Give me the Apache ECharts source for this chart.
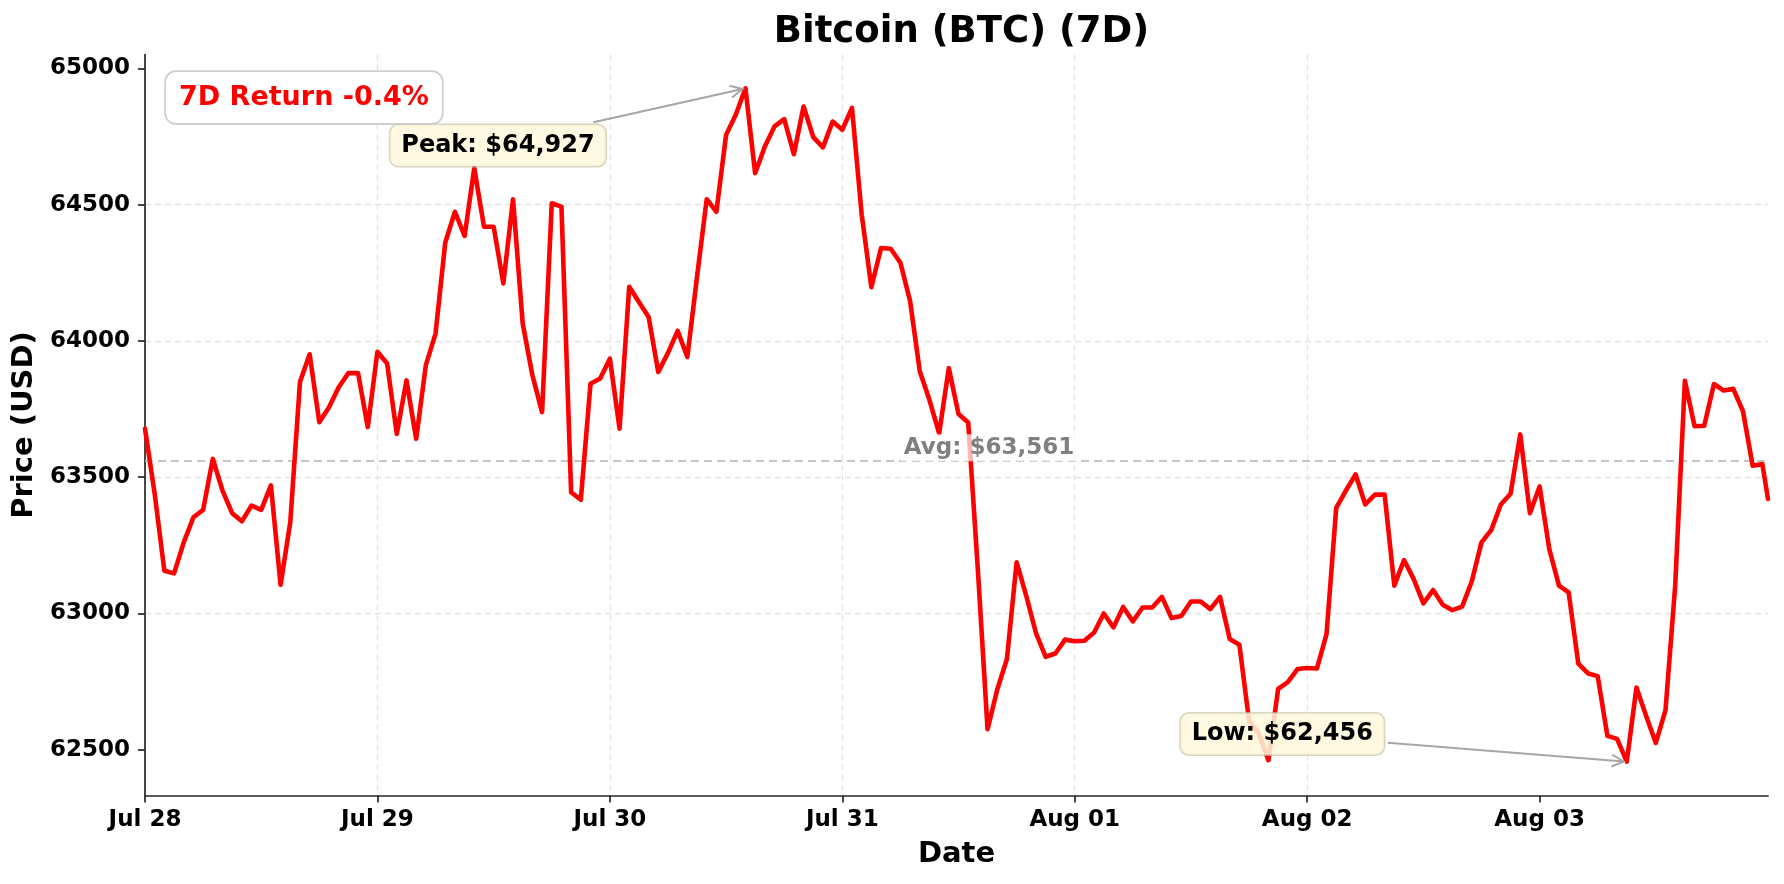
<!DOCTYPE html>
<html>
<head>
<meta charset="utf-8">
<script src="https://cdn.jsdelivr.net/npm/echarts@6/dist/echarts.min.js"></script>
<style>
html,body{margin:0;padding:0;background:#fff;}
#chart{width:1784px;height:884px;}
</style>
</head>
<body>
<div id="chart"></div>
<script>
// ---------- DATA ----------
const chartTitle = 'Bitcoin (BTC) (7D)';
const prices = [
  63678, 63439, 63157, 63147, 63261, 63353, 63380, 63567, 63451, 63368, 63338, 63396, 63380, 63470, 63105, 63335, 63849, 63951, 63702, 63757, 63830, 63882, 63882, 63684,
  63960, 63917, 63659, 63855, 63641, 63911, 64027, 64360, 64474, 64385, 64634, 64419, 64419, 64211, 64520, 64064, 63874, 63739, 64505, 64493, 63445, 63417, 63843, 63862,
  63935, 63678, 64199, 64143, 64088, 63886, 63956, 64037, 63941, 64235, 64520, 64474, 64756, 64830, 64927, 64615, 64713, 64787, 64814, 64685, 64860, 64748, 64710, 64805,
  64775, 64855, 64465, 64197, 64341, 64338, 64287, 64146, 63889, 63783, 63661, 63900, 63732, 63701, 63159, 62575, 62721, 62833, 63188, 63064, 62928, 62841, 62853, 62904,
  62898, 62900, 62930, 63000, 62949, 63024, 62971, 63022, 63022, 63061, 62983, 62991, 63044, 63044, 63016, 63061, 62906, 62885, 62607, 62560, 62462, 62723, 62748, 62796,
  62800, 62798, 62924, 63387, 63451, 63510, 63400, 63436, 63436, 63102, 63196, 63126, 63037, 63086, 63032, 63012, 63025, 63118, 63261, 63306, 63400, 63439, 63657, 63368,
  63466, 63236, 63102, 63077, 62816, 62780, 62770, 62551, 62540, 62456, 62728, 62624, 62525, 62645, 63102, 63854, 63687, 63689, 63842, 63818, 63824, 63742, 63542, 63548, 63420
];
const firstTime = '2024-07-28 00:00';   // hourly samples start here
const lastTime = '2024-08-03 23:35';    // final (latest) sample
const dayTicks = ['2024-07-28', '2024-07-29', '2024-07-30', '2024-07-31', '2024-08-01', '2024-08-02', '2024-08-03'];
const dayTickLabels = ['Jul 28', 'Jul 29', 'Jul 30', 'Jul 31', 'Aug 01', 'Aug 02', 'Aug 03'];
const priceTicks = [62500, 63000, 63500, 64000, 64500, 65000];

// ---------- HELPERS ----------
function parseLocal(s) {
  const m = s.match(/(\d+)-(\d+)-(\d+)(?:\s+(\d+):(\d+))?/);
  return new Date(+m[1], +m[2] - 1, +m[3], m[4] ? +m[4] : 0, m[5] ? +m[5] : 0).getTime();
}
function fmtNum(n) { return String(Math.round(n)).replace(/\B(?=(\d{3})+(?!\d))/g, ','); }

const HOUR = 3600000;
const DAY = 24 * HOUR;
const t0 = parseLocal(firstTime);
const tLast = parseLocal(lastTime);
const times = prices.map((_, i) => (i === prices.length - 1 ? tLast : t0 + i * HOUR));
const seriesData = prices.map((p, i) => [times[i], p]);
const dayTickTimes = dayTicks.map(parseLocal);

const pMax = Math.max(...prices), pMin = Math.min(...prices);
const iMax = prices.indexOf(pMax), iMin = prices.indexOf(pMin);
const avg = prices.reduce((a, b) => a + b, 0) / prices.length;
const ret = (prices[prices.length - 1] - prices[0]) / prices[0] * 100;
const span = pMax - pMin;
const yMin = pMin - 0.05 * span, yMax = pMax + 0.05 * span;

const FONT = '"DejaVu Sans", "Liberation Sans", sans-serif';
const GRID = { left: 145, right: 16, top: 54.6, bottom: 88.6 };
const W = 1784;
const gridCenterX = GRID.left + (W - GRID.left - GRID.right) / 2;

const chart = echarts.init(document.getElementById('chart'), null, { renderer: 'canvas' });

const axisColor = '#262626';
const gridLine = { color: '#e3e3e3', type: [6, 4], width: 1.3 };

function dayLabel(v) {
  for (let k = 0; k < dayTickTimes.length; k++) {
    if (Math.abs(dayTickTimes[k] - v) < HOUR) return dayTickLabels[k];
  }
  return '';
}

chart.setOption({
  animation: false,
  backgroundColor: '#ffffff',
  title: {
    text: chartTitle,
    left: gridCenterX,
    textAlign: 'center',
    top: 9,
    textStyle: { fontFamily: FONT, fontWeight: 'bold', fontSize: 37, color: '#000' }
  },
  grid: { left: GRID.left, right: GRID.right, top: GRID.top, bottom: GRID.bottom, containLabel: false },
  xAxis: {
    type: 'value',
    min: times[0],
    max: times[times.length - 1],
    interval: DAY,
    axisLine: { show: true, onZero: false, lineStyle: { color: axisColor, width: 1.7 } },
    axisTick: { show: true, inside: false, length: 7, customValues: dayTickTimes, lineStyle: { color: axisColor, width: 1.7 } },
    axisLabel: {
      customValues: dayTickTimes,
      formatter: dayLabel,
      fontFamily: FONT, fontWeight: 'bold', fontSize: 23, color: '#000', margin: 13
    },
    splitLine: { show: true, showMinLine: false, showMaxLine: false, lineStyle: gridLine },
    name: 'Date',
    nameLocation: 'middle',
    nameGap: 45,
    nameTextStyle: { fontFamily: FONT, fontWeight: 'bold', fontSize: 29, color: '#000' }
  },
  yAxis: {
    type: 'value',
    min: yMin,
    max: yMax,
    splitNumber: 5,
    axisLine: { show: true, onZero: false, lineStyle: { color: axisColor, width: 1.7 } },
    axisTick: { show: true, inside: false, length: 7, customValues: priceTicks, lineStyle: { color: axisColor, width: 1.7 } },
    axisLabel: {
      customValues: priceTicks,
      formatter: (v) => String(Math.round(v)),
      fontFamily: FONT, fontWeight: 'bold', fontSize: 23, color: '#000', margin: 15
    },
    splitLine: { show: true, showMinLine: false, showMaxLine: false, lineStyle: gridLine },
    name: 'Price (USD)',
    nameLocation: 'middle',
    nameGap: 98,
    nameRotate: 90,
    nameTextStyle: { fontFamily: FONT, fontWeight: 'bold', fontSize: 29, color: '#000' }
  },
  series: [{
    type: 'line',
    data: seriesData,
    showSymbol: false,
    symbol: 'none',
    lineStyle: { color: '#ff0000', width: 4.6, join: 'round', cap: 'round' },
    itemStyle: { color: '#ff0000' },
    z: 5,
    markLine: {
      silent: true,
      symbol: ['none', 'none'],
      label: { show: false },
      lineStyle: { color: '#b3b3b3', type: [8, 5], width: 1.7 },
      data: [{ yAxis: avg }],
      animation: false
    }
  }]
});

// ---------- ANNOTATIONS (positioned through the chart's own scales) ----------
function toPx(t, v) { return chart.convertToPixel({ xAxisIndex: 0, yAxisIndex: 0 }, [t, v]); }
const arrowColor = '#a6a6a6';
function arrow(from, to) {
  const dx = to[0] - from[0], dy = to[1] - from[1];
  const L = Math.hypot(dx, dy), ux = dx / L, uy = dy / L;
  const tip = [to[0] - ux * 3, to[1] - uy * 3];
  const hl = 12, hw = 6;
  const b = [tip[0] - ux * hl, tip[1] - uy * hl];
  return [
    { type: 'line', z: 50, silent: true, shape: { x1: from[0], y1: from[1], x2: tip[0], y2: tip[1] }, style: { stroke: arrowColor, lineWidth: 2 } },
    { type: 'polyline', z: 50, silent: true, shape: { points: [[b[0] - uy * hw, b[1] + ux * hw], tip, [b[0] + uy * hw, b[1] - ux * hw]] }, style: { stroke: arrowColor, lineWidth: 2, fill: null } }
  ];
}
function noteBox(x, y, text) {
  return {
    type: 'text', z: 60, silent: true, x: x, y: y,
    style: {
      text: text, fontFamily: FONT, fontWeight: 'bold', fontSize: 24, lineHeight: 28, fill: '#000',
      align: 'center', verticalAlign: 'middle',
      backgroundColor: 'rgba(255,248,220,0.85)', borderColor: 'rgba(200,196,170,0.7)', borderWidth: 1.5,
      borderRadius: 8, padding: [6.5, 11]
    }
  };
}

const peakPt = toPx(times[iMax], pMax);
const lowPt = toPx(times[iMin], pMin);
const avgY = toPx(times[0], avg)[1];
const plotW = W - GRID.left - GRID.right;

const graphics = [];
graphics.push(...arrow([peakPt[0] - 152, peakPt[1] + 34], peakPt));
graphics.push(noteBox(peakPt[0] - 247.5, peakPt[1] + 57.3, 'Peak: $' + fmtNum(pMax)));
graphics.push(...arrow([lowPt[0] - 239, lowPt[1] - 19], lowPt));
graphics.push(noteBox(lowPt[0] - 344.5, lowPt[1] - 27.8, 'Low: $' + fmtNum(pMin)));
graphics.push({
  type: 'text', z: 60, silent: true,
  x: GRID.left + 0.52 * plotW, y: avgY - 13,
  style: {
    text: 'Avg: $' + fmtNum(avg), fontFamily: FONT, fontWeight: 'bold', fontSize: 23, fill: '#808080',
    align: 'center', verticalAlign: 'middle', backgroundColor: 'rgba(255,255,255,0.7)', padding: [2, 3]
  }
});
graphics.push({
  type: 'text', z: 60, silent: true,
  x: GRID.left + 21, y: GRID.top + 17.5,
  style: {
    text: '7D Return ' + ret.toFixed(1) + '%', fontFamily: FONT, fontWeight: 'bold', fontSize: 27, lineHeight: 31,
    fill: ret < 0 ? '#ff0000' : '#008000', align: 'left', verticalAlign: 'top',
    backgroundColor: '#ffffff', borderColor: '#cfcfcf', borderWidth: 1.8, borderRadius: 10, padding: [10, 13]
  }
});
chart.setOption({ graphic: graphics });
</script>
</body>
</html>
